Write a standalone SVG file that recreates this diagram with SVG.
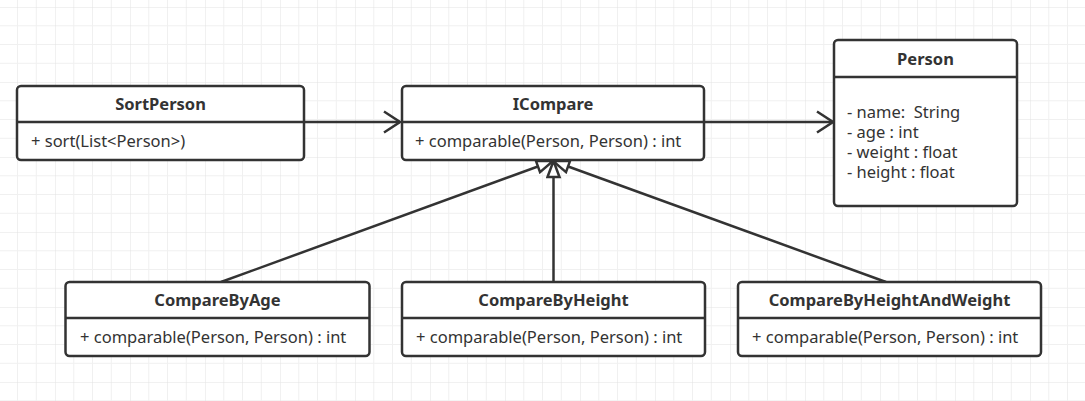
<svg xmlns="http://www.w3.org/2000/svg" width="1085" height="401" viewBox="0 0 1085 401">
<defs>
<pattern id="grid" patternUnits="userSpaceOnUse" x="55" y="7" width="75" height="75">
<path d="M18.75 0V75M37.5 0V75M56.25 0V75M0 18.75H75M0 37.5H75M0 56.25H75" stroke="#f0f0f0" stroke-width="1" fill="none"/>
<path d="M0 0V75M0 0H75" stroke="#e3e3e3" stroke-width="1" fill="none"/>
</pattern>
<marker id="open" viewBox="0 0 20 24" refX="18" refY="12" markerWidth="20" markerHeight="24" markerUnits="userSpaceOnUse" orient="auto">
<path d="M2 1.5L18 12L2 22.5" fill="none" stroke="#333" stroke-width="2.5"/>
</marker>
<marker id="tri" viewBox="0 0 20 16" refX="18" refY="8" markerWidth="20" markerHeight="16" markerUnits="userSpaceOnUse" orient="auto">
<path d="M2 2L18 8L2 14Z" fill="#fff" stroke="#333" stroke-width="2.5"/>
</marker>
</defs>
<style>
.box{fill:#fff;stroke:#333;stroke-width:2.5}
.div{stroke:#333;stroke-width:2.5}
.h{font-family:"Noto Sans","Liberation Sans",sans-serif;font-size:16.5px;font-weight:bold;fill:#333;text-anchor:middle}
.t{font-family:"Noto Sans","Liberation Sans",sans-serif;font-size:16.5px;fill:#333}
.e{fill:none;stroke:#333;stroke-width:2.5}
</style>
<rect width="1085" height="401" fill="#fff"/>
<rect width="1085" height="401" fill="url(#grid)"/>
<g id="connectors">
<path class="e" d="M304 122H400" marker-end="url(#open)"/>
<path class="e" d="M704 122H833" marker-end="url(#open)"/>
<path class="e" d="M221 282L553 161" marker-end="url(#tri)"/>
<path class="e" d="M553.5 282V161" marker-end="url(#tri)"/>
<path class="e" d="M886 282L553 161" marker-end="url(#tri)"/>
</g>
<g id="SortPerson">
<rect class="box" x="17" y="86" width="287" height="74" rx="4"/>
<line class="div" x1="17" y1="122" x2="304" y2="122"/>
<text class="h" x="160.5" y="110">SortPerson</text>
<text class="t" x="31" y="147">+ sort(List&lt;Person&gt;)</text>
</g>
<g id="ICompare">
<rect class="box" x="402" y="86" width="302" height="74" rx="4"/>
<line class="div" x1="402" y1="122" x2="704" y2="122"/>
<text class="h" x="553" y="110">ICompare</text>
<text class="t" x="415" y="147">+ comparable(Person, Person) : int</text>
</g>
<g id="Person">
<rect class="box" x="834" y="40" width="183" height="166" rx="4"/>
<line class="div" x1="834" y1="77" x2="1017" y2="77"/>
<text class="h" x="925.5" y="65">Person</text>
<text class="t" x="847" y="118">- name:&#160; String</text>
<text class="t" x="847" y="138">- age : int</text>
<text class="t" x="847" y="158">- weight : float</text>
<text class="t" x="847" y="178">- height : float</text>
</g>
<g id="CompareByAge">
<rect class="box" x="65.5" y="282" width="304" height="74" rx="4"/>
<line class="div" x1="65.5" y1="318" x2="369.5" y2="318"/>
<text class="h" x="217.5" y="306">CompareByAge</text>
<text class="t" x="80" y="343">+ comparable(Person, Person) : int</text>
</g>
<g id="CompareByHeight">
<rect class="box" x="402" y="282" width="303" height="74" rx="4"/>
<line class="div" x1="402" y1="318" x2="705" y2="318"/>
<text class="h" x="553.5" y="306">CompareByHeight</text>
<text class="t" x="416" y="343">+ comparable(Person, Person) : int</text>
</g>
<g id="CompareByHeightAndWeight">
<rect class="box" x="738" y="282" width="303" height="74" rx="4"/>
<line class="div" x1="738" y1="318" x2="1041" y2="318"/>
<text class="h" x="889.5" y="306">CompareByHeightAndWeight</text>
<text class="t" x="752" y="343">+ comparable(Person, Person) : int</text>
</g>
</svg>
